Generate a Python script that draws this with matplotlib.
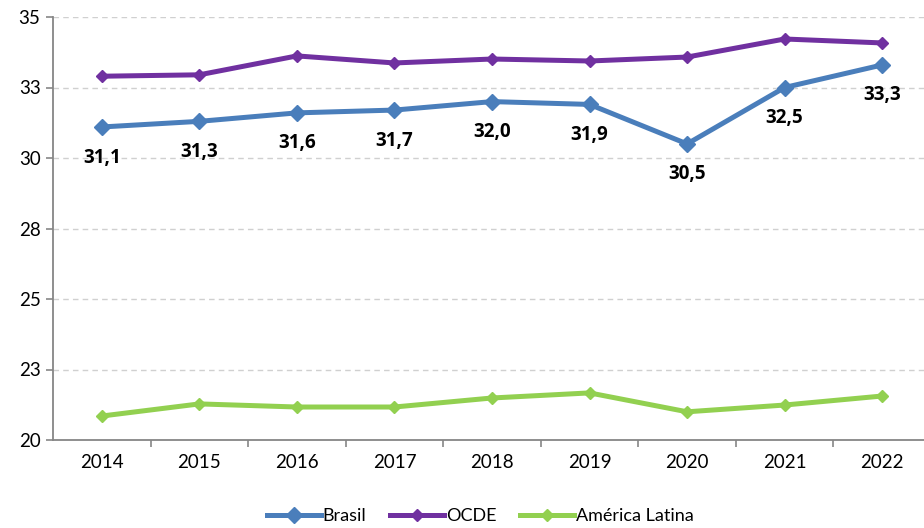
import matplotlib
matplotlib.use("Agg")
import matplotlib.pyplot as plt
from matplotlib.ticker import FixedLocator, FixedFormatter

years = ["2014", "2015", "2016", "2017", "2018", "2019", "2020", "2021", "2022"]
brasil = [31.1, 31.3, 31.6, 31.7, 32.0, 31.9, 30.5, 32.5, 33.3]
brasil_labels = ["31,1", "31,3", "31,6", "31,7", "32,0", "31,9", "30,5", "32,5", "33,3"]
ocde = [32.9, 32.95, 33.62, 33.37, 33.51, 33.44, 33.58, 34.22, 34.08]
america_latina = [20.85, 21.28, 21.17, 21.17, 21.49, 21.67, 21.0, 21.24, 21.56]
y_ticks = [20, 22.5, 25, 27.5, 30, 32.5, 35]
y_tick_labels = ["20", "23", "25", "28", "30", "33", "35"]

plt.rcParams['font.family'] = ['Lato', 'DejaVu Sans']

fig = plt.figure(figsize=(9.24, 5.28), dpi=100)
W, H = 924, 528
ax = fig.add_axes([53 / W, (H - 440) / H, (931 - 53) / W, (440 - 17) / H])

x = list(range(len(years)))
lb, = ax.plot(x, brasil, color="#4A7EBB", lw=3.6, marker="D", ms=8, label="Brasil", zorder=3)
lo, = ax.plot(x, ocde, color="#7030A0", lw=3.6, marker="D", ms=6, label="OCDE", zorder=3)
la, = ax.plot(x, america_latina, color="#92D050", lw=3.6, marker="D", ms=6, label="América Latina", zorder=3)

for xi, v, t in zip(x, brasil, brasil_labels):
    ax.annotate(t, (xi, v), xytext=(0, -22), textcoords="offset points",
                ha="center", va="center", fontsize=13.5, fontweight="bold", color="black",
                family=["Open Sans", "DejaVu Sans"])

ax.set_xlim(-0.5, len(years) - 0.5)
ax.set_ylim(20, 35)
ax.yaxis.set_major_locator(FixedLocator(y_ticks))
ax.yaxis.set_major_formatter(FixedFormatter(y_tick_labels))
ax.set_xticks(x)
ax.set_xticklabels(years)
ax.tick_params(axis="x", length=0, pad=10, labelsize=13.5)
ax.set_xticks([i + 0.5 for i in x[:-1]], minor=True)
ax.tick_params(axis="x", which="minor", length=5, color="#868686", width=1.2)
ax.tick_params(axis="y", length=5, color="#868686", width=1.2, labelsize=13.5, pad=4)

for yv in y_ticks[1:]:
    ax.axhline(yv, color="#D0D0D0", lw=1.0, ls=(0, (4, 3)), zorder=1)

for s in ["top", "right"]:
    ax.spines[s].set_visible(False)
for s in ["left", "bottom"]:
    ax.spines[s].set_color("#868686")
    ax.spines[s].set_linewidth(1.3)

fig.legend(handles=[lb, lo, la], loc="center", bbox_to_anchor=(480 / W, 1 - 516 / H),
           ncol=3, frameon=False, fontsize=13, handlelength=3.0, handletextpad=0.1,
           columnspacing=1.3)

fig.savefig("out.png", dpi=100)
